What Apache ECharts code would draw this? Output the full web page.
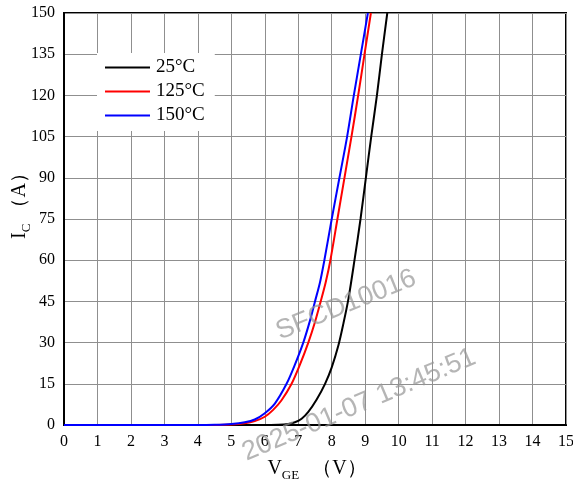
<!DOCTYPE html>
<html>
<head>
<meta charset="utf-8">
<script src="https://cdn.jsdelivr.net/npm/echarts@6/dist/echarts.min.js"></script>
<style>
  html, body { margin: 0; padding: 0; background: #fff; }
  #chart { width: 573px; height: 484px; }
</style>
</head>
<body>
<div id="chart"></div>
<script>
// Transfer characteristic: collector current vs gate-emitter voltage
const seriesNames = ['25°C', '125°C', '150°C'];
const seriesColors = ['#000000', '#ff0000', '#0000ff'];

// [V_GE (V), I_C (A)]
const curve25 = [
  [0, 0], [1, 0], [2, 0], [3, 0], [4, 0], [5, 0], [5.5, 0], [6.0, 0.02], [6.4, 0.1],
  [6.7, 0.4], [6.9, 1.0], [7.1, 2.3], [7.3, 4.8], [7.55, 9.3], [7.8, 15], [8.0, 21],
  [8.2, 29], [8.35, 37], [8.5, 46], [8.68, 60], [8.86, 75], [9.02, 90], [9.18, 105],
  [9.35, 120], [9.5, 135], [9.66, 150]
];
const curve125 = [
  [0, 0], [1, 0], [2, 0], [3, 0], [4, 0], [4.5, 0.02], [5.0, 0.15], [5.4, 0.6],
  [5.7, 1.4], [6.0, 3.0], [6.25, 5.5], [6.5, 9], [6.8, 15], [7.05, 22], [7.3, 30],
  [7.5, 37.5], [7.67, 45], [7.82, 52], [7.96, 60], [8.17, 75], [8.38, 90], [8.59, 105],
  [8.79, 120], [8.98, 135], [9.17, 150]
];
const curve150 = [
  [0, 0], [1, 0], [2, 0], [3, 0], [4, 0], [4.5, 0.1], [5.0, 0.4], [5.4, 1.0],
  [5.7, 2.0], [6.0, 4.3], [6.3, 7.8], [6.65, 15], [6.9, 22], [7.15, 30], [7.35, 38],
  [7.5, 45], [7.65, 52], [7.78, 60], [8.0, 75], [8.23, 90], [8.46, 105], [8.66, 120],
  [8.87, 135], [9.08, 150]
];

const xTicks = { min: 0, max: 15, step: 1 };
const yTicks = { min: 0, max: 150, step: 15 };

const serif = '"Liberation Serif", "Times New Roman", serif';
const chart = echarts.init(document.getElementById('chart'));

const curves = [curve25, curve125, curve150];

function titleRich(subGap) {
  return {
    m: { fontFamily: serif, fontSize: 20, color: '#000' },
    s: { fontFamily: serif, fontSize: 13, color: '#000', padding: [13, subGap, 0, 0] },
    p: { fontFamily: serif, fontSize: 20, color: '#000' }
  };
}

chart.setOption({
  animation: false,
  backgroundColor: '#fff',
  grid: {
    left: 64, right: 7, top: 13, bottom: 59,
    outerBoundsMode: 'none',
    containLabel: false,
    show: true, borderColor: '#000', borderWidth: 2, backgroundColor: 'transparent'
  },
  legend: {
    left: 97, top: 53,
    orient: 'vertical',
    backgroundColor: '#fff',
    padding: [5, 10, 6, 8],
    itemGap: 5,
    itemWidth: 45,
    itemHeight: 2,
    icon: 'rect',
    textStyle: { fontFamily: serif, fontSize: 19, color: '#000', padding: [0, 0, 0, 1] },
    data: seriesNames
  },
  xAxis: {
    type: 'value',
    min: xTicks.min, max: xTicks.max, interval: xTicks.step,
    name: '{m|V}{s|GE}{p|\uFF08V\uFF09}',
    nameLocation: 'middle',
    nameGap: 31,
    nameMoveOverlap: false,
    nameTextStyle: { rich: titleRich(13), padding: [0, 0, 0, 4] },
    axisLine: { show: true, lineStyle: { color: '#000', width: 2 } },
    axisTick: { show: false },
    axisLabel: { fontFamily: serif, fontSize: 16, color: '#000', margin: 9 },
    splitLine: { show: true, lineStyle: { color: '#8f8f8f', width: 1 } }
  },
  yAxis: {
    type: 'value',
    min: yTicks.min, max: yTicks.max, interval: yTicks.step,
    name: '{m|I}{s|C}{p|\uFF08A\uFF09}',
    nameLocation: 'middle',
    nameGap: 31,
    nameMoveOverlap: false,
    nameTextStyle: { rich: titleRich(6), padding: [0, 0, 0, 36] },
    axisLine: { show: true, lineStyle: { color: '#000', width: 2 } },
    axisTick: { show: false },
    axisLabel: { fontFamily: serif, fontSize: 16, color: '#000', margin: 9 },
    splitLine: { show: true, lineStyle: { color: '#8f8f8f', width: 1 } }
  },
  series: seriesNames.map((name, i) => ({
    name: name,
    type: 'line',
    data: curves[i],
    smooth: 0.3,
    symbol: 'none',
    clip: true,
    lineStyle: { color: seriesColors[i], width: 2 },
    itemStyle: { color: seriesColors[i] }
  })),
  graphic: [
    {
      type: 'text', x: 346, y: 305, z: 100,
      rotation: 22 * Math.PI / 180,
      style: {
        text: 'SFCD10016',
        font: '27px "Liberation Sans", Arial, sans-serif',
        fill: 'rgba(150,150,150,0.7)',
        align: 'center', verticalAlign: 'middle'
      }
    },
    {
      type: 'text', x: 359, y: 405, z: 100,
      rotation: 23 * Math.PI / 180,
      style: {
        text: '2025-01-07 13:45:51',
        font: '27px "Liberation Sans", Arial, sans-serif',
        fill: 'rgba(150,150,150,0.7)',
        align: 'center', verticalAlign: 'middle'
      }
    }
  ]
});
</script>
</body>
</html>
